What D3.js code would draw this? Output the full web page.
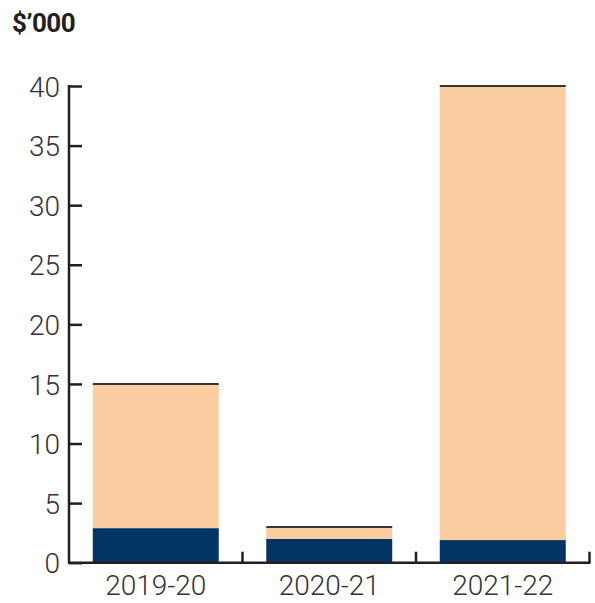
<!DOCTYPE html>
<html>
<head>
<meta charset="utf-8">
<script src="https://cdn.jsdelivr.net/npm/d3@7"></script>
<style>
  body { margin: 0; background: #fff; }
</style>
</head>
<body>
<svg width="595" height="603"></svg>
<script>
// values in $'000
var years = ["2019-20", "2020-21", "2021-22"];
var navyPart = [2.9, 2.0, 1.9];
var peachPart = [12.1, 1.0, 38.1];
var yTicks = [0, 5, 10, 15, 20, 25, 30, 35, 40];

var svg = d3.select("svg");
var axisColor = "#231f20";
var plotLeft = 69, plotRight = 589.5, plotTop = 86, plotBottom = 562.7;

var x = d3.scaleBand()
    .domain(years)
    .range([plotLeft, plotRight])
    .paddingInner(0.274)
    .paddingOuter(0.137);

var y = d3.scaleLinear()
    .domain([0, 40])
    .range([plotBottom, plotTop]);

var rows = years.map(function(yr, i) {
    return { year: yr, navy: navyPart[i], peach: peachPart[i] };
});

var stack = d3.stack().keys(["navy", "peach"])(rows);
var color = { navy: "#003463", peach: "#f9cd9f" };

svg.append("g")
    .selectAll("g")
    .data(stack)
    .enter().append("g")
    .attr("fill", d => color[d.key])
    .selectAll("rect")
    .data(d => d)
    .enter().append("rect")
    .attr("x", d => x(d.data.year))
    .attr("width", x.bandwidth())
    .attr("y", d => y(d[1]))
    .attr("height", d => y(d[0]) - y(d[1]));

// thin line on top of each bar
svg.append("g")
    .selectAll("line")
    .data(rows)
    .enter().append("line")
    .attr("x1", d => x(d.year))
    .attr("x2", d => x(d.year) + x.bandwidth())
    .attr("y1", d => y(d.navy + d.peach))
    .attr("y2", d => y(d.navy + d.peach))
    .attr("stroke", "#3a3535")
    .attr("stroke-width", 2);

// y axis, ticks pointing inward
var yAxis = svg.append("g")
    .attr("transform", "translate(" + plotLeft + ",0)")
    .call(d3.axisRight(y).tickValues(yTicks).tickSize(13).tickFormat(d3.format("d")));
yAxis.select(".domain").attr("d", "M0," + (plotTop - 1) + "V" + plotBottom);
yAxis.selectAll("line").attr("stroke", axisColor).attr("stroke-width", 2.5);
yAxis.select(".domain").attr("stroke", axisColor).attr("stroke-width", 2.5);
yAxis.selectAll("text")
    .attr("x", -9)
    .attr("dy", "0.36em")
    .attr("text-anchor", "end")
    .attr("fill", "#333")
    .attr("font-size", 28)
    .attr("font-family", "Roboto, sans-serif")
    .attr("font-weight", 300);

// x axis: baseline with separators between years
var xAxis = svg.append("g");
xAxis.append("line")
    .attr("x1", plotLeft - 1).attr("x2", plotRight + 1)
    .attr("y1", plotBottom).attr("y2", plotBottom)
    .attr("stroke", axisColor).attr("stroke-width", 2.5);

var seps = years.map(yr => x(yr) + x.bandwidth() + x.step() * x.paddingInner() / 2);
xAxis.selectAll(".sep")
    .data(seps)
    .enter().append("line")
    .attr("x1", d => d).attr("x2", d => d)
    .attr("y1", plotBottom).attr("y2", plotBottom - 11)
    .attr("stroke", axisColor).attr("stroke-width", 2.5);

xAxis.selectAll(".lab")
    .data(years)
    .enter().append("text")
    .attr("x", d => x(d) + x.bandwidth() / 2)
    .attr("y", 595)
    .attr("text-anchor", "middle")
    .attr("fill", "#333")
    .attr("font-size", 28)
    .attr("font-family", "Roboto, sans-serif")
    .attr("font-weight", 300)
    .text(d => d);

svg.append("text")
    .attr("x", 12)
    .attr("y", 32)
    .attr("font-size", 26)
    .attr("font-weight", "bold")
    .attr("fill", "#231f20")
    .attr("font-family", "Roboto, sans-serif")
    .attr("letter-spacing", -0.5)
    .text("$’000");
</script>
</body>
</html>
